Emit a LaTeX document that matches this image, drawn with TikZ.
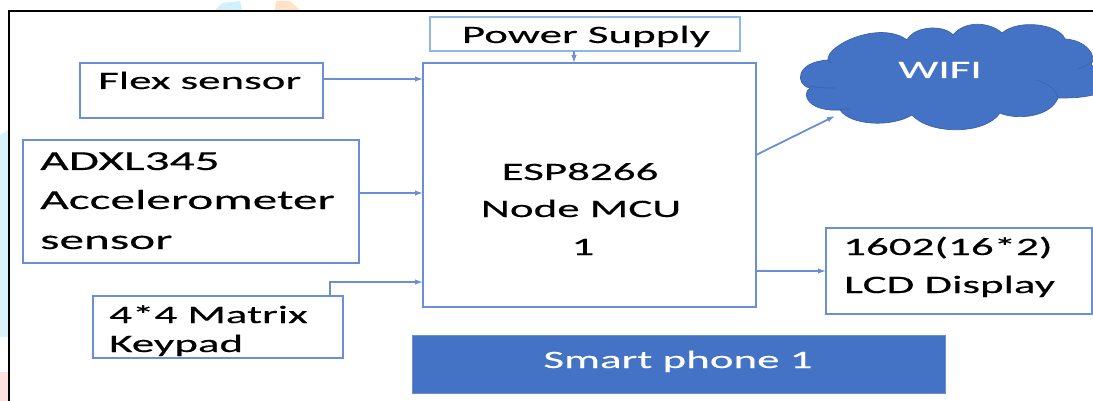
\documentclass[tikz,border=0pt]{standalone}
\usepackage{fontspec}
\setmainfont[FakeStretch=1.8,FakeBold=0.35]{Carlito}
\definecolor{boxblue}{HTML}{6A8FD6}
\definecolor{lightbox}{HTML}{8DB8E6}
\definecolor{fillblue}{HTML}{4472C4}
\definecolor{edgeblue}{HTML}{3A62A8}
\usetikzlibrary{arrows.meta}
\tikzset{
  x=1pt,y=-1pt,
  blockbox/.style={draw=boxblue,line width=1.2pt,fill=white},
  lab/.style={font=\fontsize{25}{25}\selectfont,text=black,inner sep=0pt,anchor=base west},
  biglab/.style={font=\fontsize{27.4}{27.4}\selectfont,text=black,inner sep=0pt,anchor=base west},
  clab/.style={font=\fontsize{25}{25}\selectfont,text=black,inner sep=0pt,anchor=base},
  wlab/.style={font=\fontsize{25}{25}\selectfont,text=white,inner sep=0pt,anchor=base},
  conn/.style={draw=boxblue,line width=1.5pt,-{Latex[length=8pt,width=5.5pt]}},
}
\begin{document}
\begin{tikzpicture}
\useasboundingbox (0,0) rectangle (1093,401);
\clip (0,0) rectangle (1093,401);
% watermark traces outside the frame
\fill[cyan!18] (215,10) -- (222,3) -- (240,1) -- (242,10) -- cycle;
\fill[orange!22] (275,10) -- (276,1) -- (290,1) -- (300,10) -- cycle;
\fill[cyan!15] (0,135) -- (8,130) -- (8,337) -- (0,337) -- cycle;
\fill[red!12] (0,372) rectangle (8,401);
% frame
\draw[black,line width=2pt] (9,401) -- (9,11.5) -- (1093,11.5);
% blocks
\path[blockbox,draw=lightbox,line width=1.6pt] (430,17) rectangle (740,51);
\coordinate (psS) at (574,51);
\node[clab] (ps) at (586,43) {Power Supply};
\path[blockbox] (80,63) rectangle (323,118);
\coordinate (flexE) at (323,79);
\node[lab] (flex) at (98,89) {Flex sensor};
\path[blockbox] (23,140) rectangle (359,263);
\coordinate (adxlE) at (359,193);
\node[biglab] (adxl1) at (40,170) {ADXL345};
\node[biglab] (adxl2) at (40,209) {Accelerometer};
\node[biglab] (adxl3) at (40,249) {sensor};
\path[blockbox] (93,296) rectangle (343,358);
\coordinate (keyN) at (330,296);
\coordinate (keyW) at (240,296);
\node[lab] (key1) at (109,323) {4*4 Matrix};
\node[lab] (key2) at (109,352) {Keypad};
\path[blockbox] (423,63) rectangle (756,307);
\coordinate (mcuN) at (574,63);
\coordinate (mcuF) at (423,79);
\coordinate (mcuA) at (423,193);
\coordinate (mcuK) at (423,282);
\coordinate (mcuW) at (756,155);
\coordinate (mcuL) at (756,271);
\node[clab] (mcu1) at (580,180) {ESP8266};
\node[clab] (mcu2) at (581,217) {Node MCU};
\node[clab] (mcu3) at (583,255) {1};
\path[blockbox] (826,228) rectangle (1092,314);
\coordinate (lcdW) at (826,271);
\node[lab] (lcd1) at (843,255) {1602(16*2)};
\node[lab] (lcd2) at (844,293) {LCD Display};
\path[fill=fillblue,draw=boxblue] (412,335) rectangle (945,393);
\node[wlab] (sp) at (678,368) {Smart phone 1};
% cloud
\path[fill=fillblue,draw=edgeblue,line width=.7pt]
 (828,60) .. controls (826,45) and (880,20) .. (907,40)
 .. controls (915,25) and (945,25) .. (953,35)
 .. controls (965,20) and (990,22) .. (1002,33)
 .. controls (1020,18) and (1060,25) .. (1065,39)
 .. controls (1085,40) and (1098,55) .. (1091,65)
 .. controls (1110,70) and (1110,90) .. (1093,95)
 .. controls (1080,98) and (1070,98) .. (1058,98)
 .. controls (1050,118) and (1015,120) .. (1000,113)
 .. controls (985,135) and (930,135) .. (912,115)
 .. controls (890,128) and (850,125) .. (840,110)
 .. controls (810,112) and (800,95) .. (810,88)
 .. controls (795,85) and (795,62) .. (828,60) -- cycle;
\draw[edgeblue,line width=.6pt] (828,60) .. controls (829,61) and (830,62) .. (832,63);
\draw[edgeblue,line width=.6pt] (810,86) .. controls (820,88) and (825,88) .. (835,88);
\draw[edgeblue,line width=.6pt] (836,110) .. controls (840,109) and (845,109) .. (850,109);
\draw[edgeblue,line width=.6pt] (1036,80) .. controls (1048,83) and (1056,90) .. (1058,98);
\draw[edgeblue,line width=.6pt] (1078,69) .. controls (1084,67) and (1088,65) .. (1091,62);
\node[wlab] (wifi) at (940,78) {WIFI};
% connectors
\draw[conn] (flexE) -- (mcuF);
\draw[conn] (adxlE) -- (mcuA);
\draw[conn] (psS) -- (mcuN);
\draw[draw=boxblue,line width=1.6pt] (keyW) -- (keyN);
\draw[conn] (keyN) |- (mcuK);
\draw[conn,line width=1.8pt] (mcuW) -- (835,116);
\draw[conn] (mcuL) -- (lcdW);
\end{tikzpicture}
\end{document}
